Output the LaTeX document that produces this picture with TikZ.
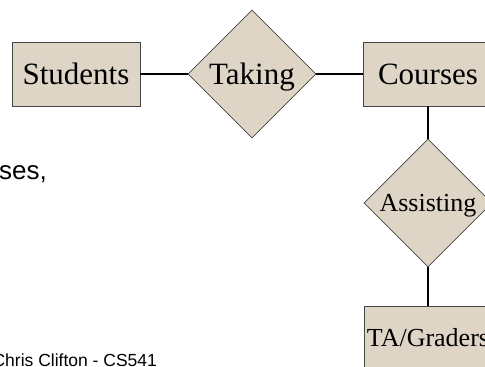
\documentclass[tikz,border=0pt]{standalone}
\usepackage{fontspec}
\setmainfont{Liberation Serif}
\newfontfamily\slidefont{Liberation Sans}
\usetikzlibrary{shapes.geometric}
\definecolor{erfill}{RGB}{222,213,198}
\definecolor{eredge}{RGB}{70,70,70}
\begin{document}
\begin{tikzpicture}[x=1pt,y=-1pt,
  erbase/.style={draw=eredge, fill=erfill, line width=0.8pt, inner sep=0pt,
    text depth=0pt},
  large/.style={font=\fontsize{31}{31}\selectfont, text height=20.5pt},
  small/.style={font=\fontsize{26}{26}\selectfont, text height=17.2pt},
  entity/.style={erbase, rectangle, minimum width=128pt, minimum height=64pt, large},
  relation/.style={erbase, diamond, minimum width=128pt, minimum height=128pt, large},
  link/.style={draw=black, line width=1.5pt},
  slidetext/.style={anchor=base west, inner sep=0pt}]
  \useasboundingbox (0,0) rectangle (485,367);
  \clip (0,0) rectangle (485,367);

  % entities and relationships
  \node[entity] (students) at (76,74) {Students};
  \node[relation] (taking) at (252,74) {Taking};
  \node[entity, minimum width=130pt] (courses) at (428,74) {Courses};
  \node[relation, small] (assisting) at (428,203) {Assisting};
  \node[entity, small] (ta) at (428,338) {TA/Graders};

  % connectors
  \draw[link] (students) -- (taking);
  \draw[link] (taking) -- (courses);
  \draw[link] (courses) -- (assisting);
  \draw[link] (assisting) -- (ta);

  % slide text
  \node[slidetext, font=\slidefont\fontsize{26}{26}\selectfont] (ses) at (-1,179) {ses,};
  \node[slidetext, font=\slidefont\fontsize{17.5}{17.5}\selectfont] (footer) at (-7.6,366) {Chris Clifton - CS541};
\end{tikzpicture}
\end{document}
